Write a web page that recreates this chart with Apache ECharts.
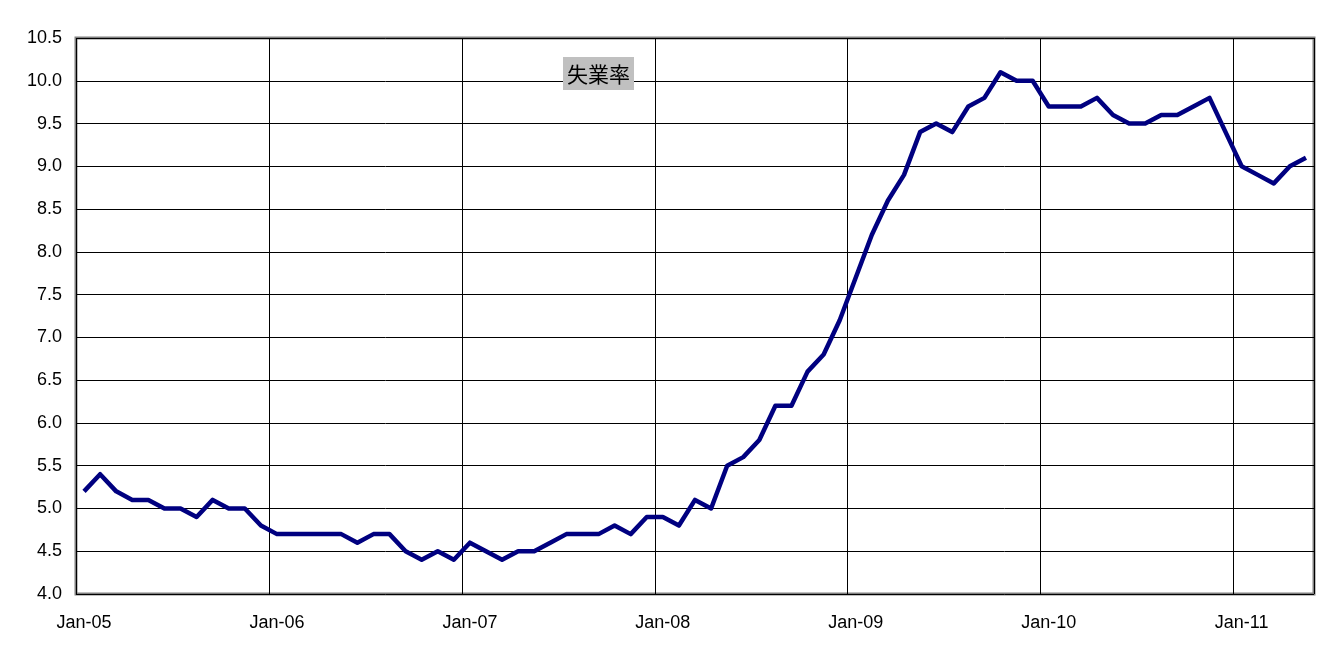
<!DOCTYPE html>
<html>
<head>
<meta charset="utf-8">
<script src="https://cdn.jsdelivr.net/npm/echarts@6/dist/echarts.min.js"></script>
<style>
  html, body { margin: 0; padding: 0; background: #fff; }
  #chart { width: 1340px; height: 657px; }
</style>
</head>
<body>
<div id="chart"></div>
<script>
// monthly unemployment rate, Jan-05 .. May-11
var monthNames = ['Jan', 'Feb', 'Mar', 'Apr', 'May', 'Jun', 'Jul', 'Aug', 'Sep', 'Oct', 'Nov', 'Dec'];
var years = ['05', '06', '07', '08', '09', '10', '11'];

var rate2005 = [5.2, 5.4, 5.2, 5.1, 5.1, 5.0, 5.0, 4.9, 5.1, 5.0, 5.0, 4.8];
var rate2006 = [4.7, 4.7, 4.7, 4.7, 4.7, 4.6, 4.7, 4.7, 4.5, 4.4, 4.5, 4.4];
var rate2007 = [4.6, 4.5, 4.4, 4.5, 4.5, 4.6, 4.7, 4.7, 4.7, 4.8, 4.7, 4.9];
var rate2008 = [4.9, 4.8, 5.1, 5.0, 5.5, 5.6, 5.8, 6.2, 6.2, 6.6, 6.8, 7.2];
var rate2009 = [7.7, 8.2, 8.6, 8.9, 9.4, 9.5, 9.4, 9.7, 9.8, 10.1, 10.0, 10.0];
var rate2010 = [9.7, 9.7, 9.7, 9.8, 9.6, 9.5, 9.5, 9.6, 9.6, 9.7, 9.8, 9.4];
var rate2011 = [9.0, 8.9, 8.8, 9.0, 9.1];

var yMin = 4.0, yMax = 10.5, yStep = 0.5;
var seriesTitle = '失業率';

var rates = [].concat(rate2005, rate2006, rate2007, rate2008, rate2009, rate2010, rate2011);
var categories = [];
for (var i = 0; i < rates.length; i++) {
    categories.push(monthNames[i % 12] + '-' + years[Math.floor(i / 12)]);
}

var labelFont = { fontFamily: 'Liberation Sans, Arial, sans-serif', fontSize: 18, color: '#000' };

var option = {
    animation: false,
    backgroundColor: '#fff',
    title: {
        text: seriesTitle,
        left: 563,
        top: 57,
        padding: [5, 4, 4, 4],
        backgroundColor: '#c0c0c0',
        textStyle: {
            fontFamily: 'Noto Sans CJK JP',
            fontSize: 21,
            lineHeight: 24,
            fontWeight: 'normal',
            color: '#000'
        }
    },
    grid: {
        left: 76,
        right: 26,
        top: 38,
        bottom: 63,
        show: true,
        borderColor: '#808080',
        borderWidth: 3,
        backgroundColor: '#fff'
    },
    xAxis: {
        type: 'category',
        data: categories,
        boundaryGap: true,
        axisLine: { show: false },
        axisTick: { show: false, interval: 11 },
        axisLabel: Object.assign({ interval: 11, margin: 20 }, labelFont),
        splitLine: { show: true, interval: 11, lineStyle: { color: '#000', width: 1 } }
    },
    yAxis: {
        type: 'value',
        min: yMin,
        max: yMax,
        interval: yStep,
        axisLine: { show: false },
        axisTick: { show: false },
        axisLabel: Object.assign({
            margin: 14,
            formatter: function (v) { return v.toFixed(1); }
        }, labelFont),
        splitLine: { show: true, lineStyle: { color: '#000', width: 1 } }
    },
    series: [{
        name: seriesTitle,
        type: 'line',
        data: rates,
        symbol: 'none',
        lineStyle: { color: '#000080', width: 4.5, join: 'round' },
        z: 5
    }]
};

var myChart = echarts.init(document.getElementById('chart'));
myChart.setOption(option);
</script>
</body>
</html>
